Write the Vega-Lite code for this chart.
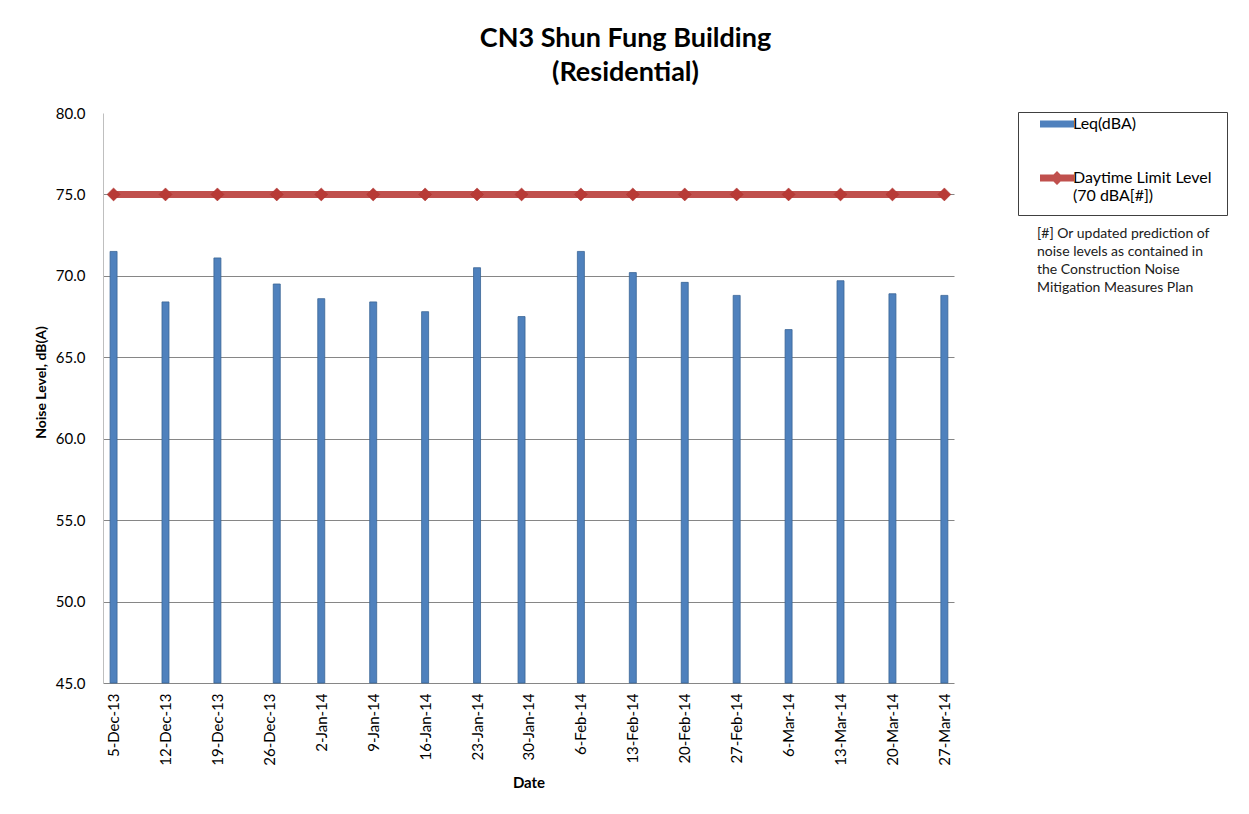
{
  "$schema": "https://vega.github.io/schema/vega-lite/v6.json",
  "autosize": "none",
  "width": 851,
  "height": 570,
  "padding": {"left": 103, "top": 113, "right": 295, "bottom": 131},
  "background": "white",
  "config": {
    "font": "Lato",
    "view": {"stroke": null}
  },
  "title": {
    "text": ["CN3 Shun Fung Building", "(Residential)"],
    "font": "Lato",
    "fontSize": 27,
    "fontWeight": "bold",
    "lineHeight": 34,
    "color": "black",
    "anchor": "middle",
    "dx": 97,
    "offset": 19
  },
  "data": {
    "values": [
      {"date": "2013-12-05", "leq": 71.5, "limit": 75},
      {"date": "2013-12-12", "leq": 68.4, "limit": 75},
      {"date": "2013-12-19", "leq": 71.1, "limit": 75},
      {"date": "2013-12-27", "leq": 69.5, "limit": 75},
      {"date": "2014-01-02", "leq": 68.6, "limit": 75},
      {"date": "2014-01-09", "leq": 68.4, "limit": 75},
      {"date": "2014-01-16", "leq": 67.8, "limit": 75},
      {"date": "2014-01-23", "leq": 70.5, "limit": 75},
      {"date": "2014-01-29", "leq": 67.5, "limit": 75},
      {"date": "2014-02-06", "leq": 71.5, "limit": 75},
      {"date": "2014-02-13", "leq": 70.2, "limit": 75},
      {"date": "2014-02-20", "leq": 69.6, "limit": 75},
      {"date": "2014-02-27", "leq": 68.8, "limit": 75},
      {"date": "2014-03-06", "leq": 66.7, "limit": 75},
      {"date": "2014-03-13", "leq": 69.7, "limit": 75},
      {"date": "2014-03-20", "leq": 68.9, "limit": 75},
      {"date": "2014-03-27", "leq": 68.8, "limit": 75}
    ]
  },
  "encoding": {
    "x": {
      "field": "date",
      "type": "temporal",
      "title": "Date",
      "scale": {
        "type": "utc",
        "domain": [
          {"year": 2013, "month": 12, "date": 4, "hours": 6, "utc": true},
          {"year": 2014, "month": 3, "date": 27, "hours": 15, "utc": true}
        ]
      },
      "axis": {
        "values": [
          {"year": 2013, "month": 12, "date": 5, "utc": true},
          {"year": 2013, "month": 12, "date": 12, "utc": true},
          {"year": 2013, "month": 12, "date": 19, "utc": true},
          {"year": 2013, "month": 12, "date": 26, "utc": true},
          {"year": 2014, "month": 1, "date": 2, "utc": true},
          {"year": 2014, "month": 1, "date": 9, "utc": true},
          {"year": 2014, "month": 1, "date": 16, "utc": true},
          {"year": 2014, "month": 1, "date": 23, "utc": true},
          {"year": 2014, "month": 1, "date": 30, "utc": true},
          {"year": 2014, "month": 2, "date": 6, "utc": true},
          {"year": 2014, "month": 2, "date": 13, "utc": true},
          {"year": 2014, "month": 2, "date": 20, "utc": true},
          {"year": 2014, "month": 2, "date": 27, "utc": true},
          {"year": 2014, "month": 3, "date": 6, "utc": true},
          {"year": 2014, "month": 3, "date": 13, "utc": true},
          {"year": 2014, "month": 3, "date": 20, "utc": true},
          {"year": 2014, "month": 3, "date": 27, "utc": true}
        ],
        "labelExpr": "utcFormat(datum.value, '%-d-%b-%y')",
        "labelAngle": -90,
        "labelFont": "Lato",
        "labelFontSize": 15,
        "labelColor": "black",
        "labelPadding": 10,
        "labelOverlap": false,
        "labelFlush": false,
        "ticks": false,
        "grid": false,
        "domainColor": "#868686",
        "titleFont": "Lato",
        "titleFontSize": 15,
        "titleFontWeight": "bold",
        "titleColor": "black",
        "titlePadding": 10
      }
    }
  },
  "layer": [
    {
      "mark": {
        "type": "bar",
        "width": 7,
        "color": {
          "gradient": "linear",
          "x1": 0, "x2": 1, "y1": 0, "y2": 0,
          "stops": [
            {"offset": 0, "color": "#3A69A6"},
            {"offset": 0.45, "color": "#5A8CCB"},
            {"offset": 1, "color": "#3A69A6"}
          ]
        },
        "stroke": "#3A6496",
        "strokeWidth": 0.8
      },
      "encoding": {
        "y": {
          "field": "leq",
          "type": "quantitative",
          "title": "Noise Level, dB(A)",
          "scale": {"domain": [45, 80], "zero": false, "nice": false},
          "axis": {
            "values": [45, 50, 55, 60, 65, 70, 75, 80],
            "format": ".1f",
            "labelFont": "Lato",
            "labelFontSize": 15,
            "labelColor": "black",
            "labelPadding": 18,
            "ticks": false,
            "grid": true,
            "gridColor": "#868686",
            "gridWidth": 1,
            "gridOpacity": {"condition": {"test": "datum.value == 80 || datum.value == 45", "value": 0}, "value": 1},
            "domainColor": "#BFBFBF",
            "titleFont": "Lato",
            "titleFontSize": 14,
            "titleFontWeight": "bold",
            "titleColor": "black",
            "titlePadding": 7,
            "titleY": 269
          }
        },
        "y2": {"datum": 45},
        "color": {
          "datum": "Leq(dBA)",
          "type": "nominal",
          "scale": {
            "domain": ["Leq(dBA)", "Daytime Limit Level (70 dBA[#])"],
            "range": ["#4F81BD", "#C0504D"]
          },
          "legend": {
            "title": null,
            "orient": "none",
            "legendX": 915,
            "legendY": -1,
            "strokeColor": "#404040",
            "fillColor": "white",
            "padding": 4,
            "rowPadding": 38,
            "symbolType": {"expr": "datum.value == 'Leq(dBA)' ? 'M-1,-0.7H5.8V0.7H-1Z' : 'M-1,-0.7H5.8V0.7H-1Z M2.4,-1.4L3.8,0L2.4,1.4L1,0Z M35.4,6.4L35.41,6.4L35.41,6.41Z'"},
            "symbolSize": 100,
            "symbolStrokeWidth": 0,
            "symbolOffset": 15,
            "labelOffset": 20,
            "labelFont": "Lato",
            "labelFontSize": 16,
            "labelColor": "black",
            "labelLimit": 300,
            "labelBaseline": "middle",
            "labelExpr": "datum.value == 'Leq(dBA)' ? datum.label : ['Daytime Limit Level', '(70 dBA[#])']",
            "encode": {
              "symbols": {
                "fill": {"value": {"expr": "datum.value == 'Leq(dBA)' ? '#4F81BD' : '#C0504D'"}},
                "stroke": {"value": "transparent"},
                "opacity": {"value": 1}
              },
              "labels": {
                "lineHeight": {"value": 20}
              }
            }
          }
        }
      }
    },
    {
      "mark": {"type": "line", "strokeWidth": 7, "color": "#C0504D"},
      "encoding": {
        "y": {"field": "limit", "type": "quantitative"},
        "color": {"datum": "Daytime Limit Level (70 dBA[#])", "type": "nominal"}
      }
    },
    {
      "mark": {"type": "point", "filled": true, "size": 170, "color": "#B83A36", "opacity": 1, "stroke": "#A8322F", "strokeWidth": 0.5},
      "encoding": {
        "y": {"field": "limit", "type": "quantitative"},
        "shape": {
          "datum": "note",
          "type": "nominal",
          "scale": {"range": ["diamond"]},
          "legend": {
            "orient": "none",
            "legendX": 934,
            "legendY": 114,
            "title": ["[#] Or updated prediction of", "noise levels as contained in", "the Construction Noise", "Mitigation Measures Plan"],
            "titleFont": "Lato",
            "titleFontSize": 14,
            "titleFontWeight": "normal",
            "titleColor": "#202020",
            "titleLineHeight": 18,
            "titleLimit": 400,
            "symbolOpacity": 0,
            "symbolSize": 1,
            "labelExpr": "''",
            "labelFontSize": 1
          }
        }
      }
    }
  ]
}
